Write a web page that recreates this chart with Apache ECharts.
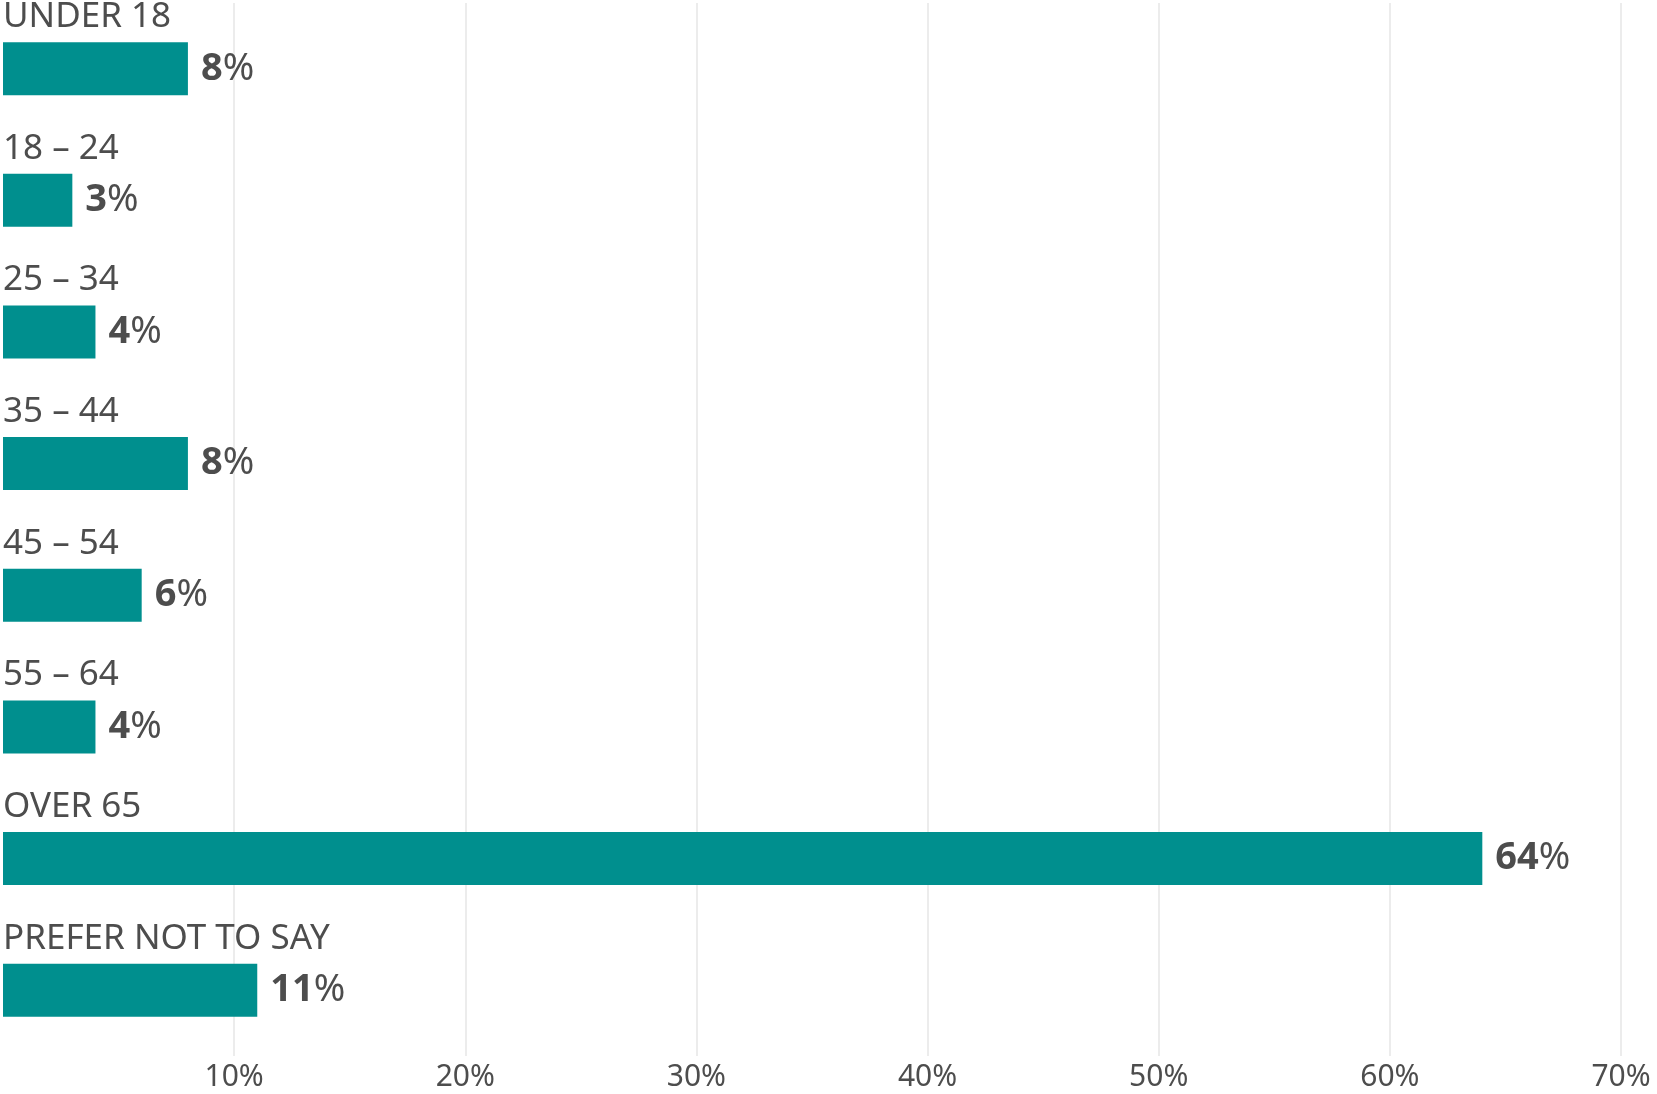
<!DOCTYPE html>
<html>
<head>
<meta charset="utf-8">
<script src="https://cdn.jsdelivr.net/npm/echarts@6/dist/echarts.min.js"></script>
<style>
  html, body { margin: 0; padding: 0; background: #fff; }
  #chart { width: 1657px; height: 1094px; }
</style>
</head>
<body>
<div id="chart"></div>
<script>
// Age groups and share of respondents (%)
const categories = [
  "UNDER 18", "18 – 24", "25 – 34", "35 – 44",
  "45 – 54", "55 – 64", "OVER 65", "PREFER NOT TO SAY"
];
const shares = [8, 3, 4, 8, 6, 4, 64, 11];

const textColor = "#4d4d4d";
const fontFamily = "'Noto Sans', Roboto, sans-serif";

const chart = echarts.init(document.getElementById("chart"), null, { renderer: "canvas" });

const option = {
  backgroundColor: "#fff",
  animation: false,
  grid: { left: 0, right: 36, top: -2, bottom: 38, containLabel: false },
  xAxis: {
    type: "value",
    min: 0,
    max: 70,
    interval: 10,
    axisLine: { show: false },
    axisTick: { show: false },
    splitLine: { showMinLine: false, lineStyle: { color: "#e6e6e6", width: 1.5 } },
    axisLabel: {
      showMinLabel: false,
      margin: 6,
      formatter: "{value}%",
      fontSize: 30,
      fontFamily: fontFamily,
      color: textColor
    }
  },
  yAxis: {
    type: "category",
    inverse: true,
    data: categories,
    axisLine: { show: false },
    axisTick: { show: false },
    axisLabel: {
      inside: true,
      margin: 0,
      align: "left",
      verticalAlign: "bottom",
      padding: [0, 0, 34, 0],
      fontSize: 35,
      fontFamily: fontFamily,
      color: textColor
    }
  },
  series: [
    {
      type: "bar",
      data: shares,
      barWidth: 53,
      itemStyle: { color: "#008f8e" },
      label: {
        show: true,
        position: "right",
        distance: 13,
        formatter: (p) => `{num|${p.value}}{pct|%}`,
        rich: {
          num: { fontSize: 38, fontWeight: "bold", fontFamily: fontFamily, color: textColor },
          pct: { fontSize: 38, fontWeight: "normal", fontFamily: fontFamily, color: textColor }
        }
      }
    }
  ]
};

chart.setOption(option);
window.addEventListener("resize", () => chart.resize());
</script>
</body>
</html>
